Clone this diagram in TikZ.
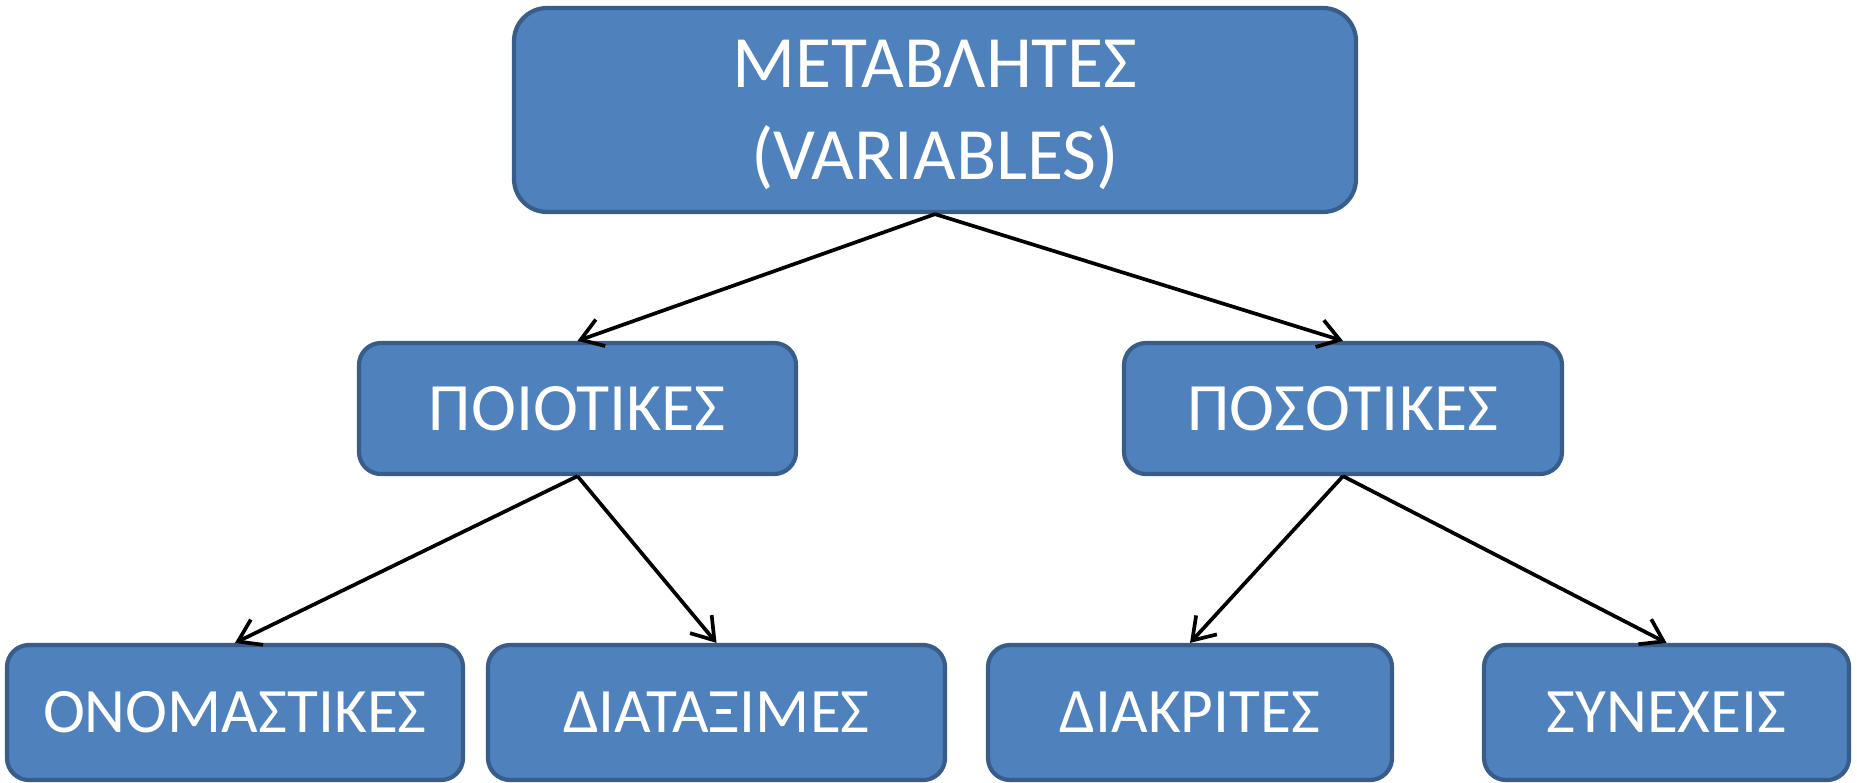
\documentclass[tikz,border=0pt]{standalone}
\usepackage{fontspec}
\setmainfont{Carlito}
\usetikzlibrary{arrows.meta}
\definecolor{boxfill}{HTML}{4F81BD}
\definecolor{boxline}{HTML}{385D8A}
\begin{document}
\begin{tikzpicture}[x=1cm,y=1cm,
  box/.style={draw=boxline, line width=1.2pt, fill=boxfill, text=white,
    rounded corners=0.22cm, align=center, inner sep=0pt},
  link/.style={line width=1.05pt, -{Straight Barb[length=6pt,width=8pt]}}]
\useasboundingbox (0,0) rectangle (18.57,-7.82);

\node[box, rounded corners=0.33cm, minimum width=8.42cm, minimum height=2.04cm,
  text depth=0pt, font=\fontsize{21}{26}\selectfont] (var) at (9.35,-1.10) {ΜΕΤΑΒΛΗΤΕΣ\\(VARIABLES)};

\node[box, minimum width=4.37cm, minimum height=1.31cm, font=\fontsize{19.3}{23}\selectfont]
  (poio) at (5.775,-4.085) {ΠΟΙΟΤΙΚΕΣ};
\node[box, minimum width=4.38cm, minimum height=1.31cm, font=\fontsize{19.3}{23}\selectfont]
  (poso) at (13.43,-4.085) {ΠΟΣΟΤΙΚΕΣ};

\node[box, minimum width=4.56cm, minimum height=1.35cm, font=\fontsize{18}{22}\selectfont]
  (onom) at (2.35,-7.125) {ΟΝΟΜΑΣΤΙΚΕΣ};
\node[box, minimum width=4.57cm, minimum height=1.35cm, font=\fontsize{18}{22}\selectfont]
  (diat) at (7.165,-7.125) {ΔΙΑΤΑΞΙΜΕΣ};
\node[box, minimum width=4.04cm, minimum height=1.35cm, font=\fontsize{18}{22}\selectfont]
  (diak) at (11.90,-7.125) {ΔΙΑΚΡΙΤΕΣ};
\node[box, minimum width=3.65cm, minimum height=1.35cm, font=\fontsize{18}{22}\selectfont]
  (syne) at (16.665,-7.125) {ΣΥΝΕΧΕΙΣ};

\draw[link] (var.south) -- (poio.north);
\draw[link] (var.south) -- (poso.north);
\draw[link] (poio.south) -- (onom.north);
\draw[link] (poio.south) -- (diat.north);
\draw[link] (poso.south) -- (diak.north);
\draw[link] (poso.south) -- (syne.north);
\end{tikzpicture}
\end{document}
